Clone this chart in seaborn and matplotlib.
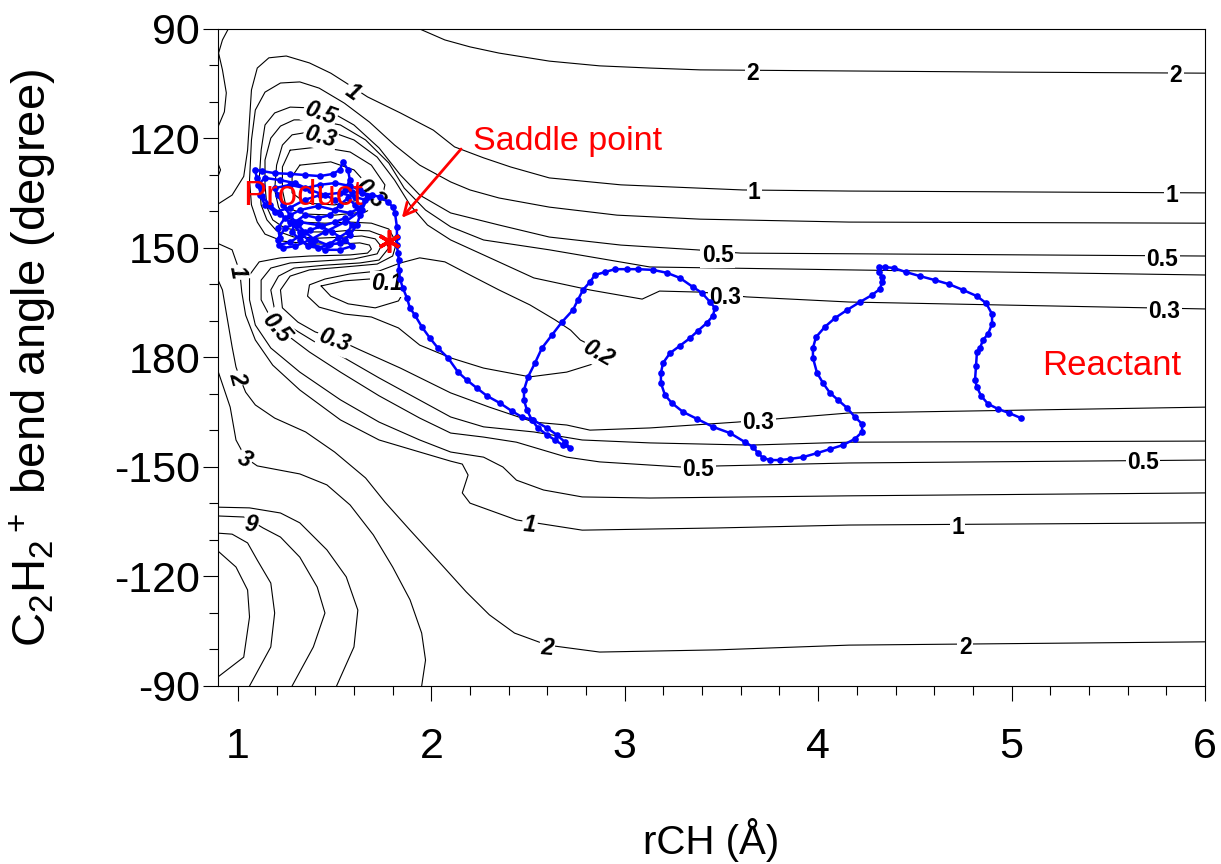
import matplotlib
matplotlib.use("Agg")
import matplotlib.pyplot as plt
import seaborn as sns
import pandas as pd
from matplotlib.ticker import MultipleLocator, FixedLocator

# ---------------- data (rCH in Angstrom, bend angle in degree; 180..270 shown as -180..-90) ----------------
traj_r = [5.049, 4.986, 4.930, 4.878, 4.842, 4.821, 4.811, 4.816, 4.821, 4.837,
          4.852, 4.878, 4.899, 4.899, 4.868, 4.821, 4.749, 4.676, 4.604, 4.526,
          4.454, 4.392, 4.345, 4.314, 4.314, 4.330, 4.330, 4.320, 4.278, 4.216,
          4.149, 4.087, 4.035, 3.989, 3.973, 3.973, 3.994, 4.025, 4.061, 4.102,
          4.149, 4.190, 4.227, 4.227, 4.190, 4.128, 4.061, 3.994, 3.921, 3.854,
          3.803, 3.751, 3.715, 3.689, 3.663, 3.622, 3.544, 3.456, 3.373, 3.301,
          3.244, 3.208, 3.187, 3.187, 3.198, 3.234, 3.285, 3.337, 3.378, 3.425,
          3.456, 3.466, 3.441, 3.399, 3.353, 3.285, 3.218, 3.146, 3.068, 3.011,
          2.949, 2.898, 2.846, 2.820, 2.784, 2.758, 2.732, 2.675, 2.624, 2.572,
          2.536, 2.500, 2.479, 2.479, 2.494, 2.520, 2.551, 2.598, 2.639, 2.680,
          2.717, 2.691, 2.649, 2.598, 2.525, 2.468, 2.417, 2.355, 2.287, 2.236,
          2.184, 2.138, 2.086, 2.034, 1.993, 1.951, 1.915, 1.889, 1.874, 1.853,
          1.838, 1.832, 1.832, 1.827, 1.822, 1.822, 1.822, 1.812, 1.801, 1.776, 1.734,
          1.693, 1.641, 1.589, 1.553, 1.579, 1.569, 1.543, 1.527, 1.491, 1.424,
          1.346, 1.269, 1.191, 1.124, 1.088, 1.098, 1.124, 1.114, 1.140, 1.191,
          1.269, 1.346, 1.424, 1.527, 1.605, 1.657, 1.631, 1.579, 1.502, 1.414,
          1.321, 1.243, 1.207, 1.217, 1.212, 1.269, 1.321, 1.372, 1.434, 1.502,
          1.553, 1.589, 1.569, 1.517, 1.476, 1.414, 1.362, 1.321, 1.279, 1.295,
          1.346, 1.414, 1.476, 1.527, 1.569, 1.605, 1.631, 1.615, 1.579, 1.527,
          1.465, 1.398, 1.346, 1.310, 1.269, 1.233, 1.207, 1.191, 1.269, 1.346,
          1.424, 1.502, 1.579, 1.631,
          1.672, 1.641, 1.553, 1.450, 1.372, 1.295, 1.233, 1.207, 1.243, 1.321,
          1.414, 1.486, 1.553, 1.589, 1.527, 1.450, 1.383, 1.321, 1.269, 1.217,
          1.165, 1.124, 1.103, 1.140, 1.217, 1.295, 1.372, 1.450, 1.502]
traj_a = [196.6, 195.2, 194.1, 192.7, 190.5, 188.1, 186.2, 182.3, 178.5, 177.4,
          175.2, 173.6, 170.8, 168.1, 165.1, 163.2, 161.5, 159.9, 158.8, 157.7,
          156.6, 155.5, 155.2, 155.2, 156.6, 157.9, 159.3, 161.2, 162.9, 164.8,
          167.0, 169.2, 171.6, 174.4, 177.4, 180.1, 184.2, 187.0, 189.7, 191.6,
          193.8, 196.3, 198.2, 200.4, 202.3, 204.0, 205.1, 206.2, 207.3, 207.8,
          208.1, 208.1, 207.5, 206.2, 204.5, 203.2, 200.7, 199.0, 196.8, 194.9,
          192.5, 190.3, 187.0, 184.2, 181.5, 178.8, 176.8, 174.7, 172.7, 170.5,
          168.6, 166.4, 164.8, 162.3, 160.7, 158.2, 156.8, 156.0, 155.8, 155.8,
          155.8, 156.6, 157.4, 159.3, 161.5, 164.2, 167.0, 170.3, 173.8, 177.4,
          181.5, 185.3, 188.9, 191.6, 194.4, 197.1, 199.3, 201.2, 202.6, 204.0,
          204.8, 203.2, 201.2, 199.3, 197.1, 196.3, 194.7, 192.5, 190.5, 188.4,
          186.2, 184.0, 180.1, 177.4, 174.7, 171.6, 168.4, 166.4, 163.7, 161.0,
          158.5, 156.0, 153.3, 151.4, 149.2, 147.0, 144.2, 140.4, 138.8, 137.4, 136.0,
          135.5, 134.9, 134.7, 134.1, 131.4, 128.6, 126.4, 128.6, 129.7, 130.3,
          130.0, 129.7, 129.5, 128.9, 128.6, 130.8, 133.0, 135.5, 138.2, 140.1,
          139.0, 136.8, 135.5, 134.9, 136.0, 136.8, 139.0, 140.4, 139.6, 138.5,
          139.6, 141.8, 144.5, 147.3, 149.2, 148.4, 146.7, 145.1, 144.0, 142.9,
          141.8, 143.7, 145.6, 147.3, 148.9, 150.0, 149.5, 147.8, 145.6, 142.9,
          141.0, 141.8, 141.0, 138.2, 136.3, 138.2, 141.0, 143.7, 146.4, 148.6,
          149.2, 147.8, 145.6, 143.7, 141.0, 138.2, 135.5, 133.6, 132.7, 133.6,
          132.7, 132.2, 133.0, 134.1,
          136.0, 139.6, 142.9, 145.6, 147.8, 149.5, 150.0, 147.8, 144.5, 142.9,
          143.7, 145.6, 147.8, 149.5, 150.5, 150.5, 148.9, 145.6, 142.9, 140.7,
          138.2, 135.8, 132.7, 130.8, 131.4, 132.2, 134.1, 135.5, 136.8]

# contour lines (energy levels in eV)
lvl2_top_r = [1.94, 2.07, 2.20, 2.35, 2.61, 2.87, 3.13, 3.39, 4.16, 4.94, 6.00]
lvl2_top_a = [90.0, 93.0, 94.9, 96.6, 98.8, 100.1, 100.7, 101.2, 101.5, 101.8, 102.1]
lvl2_left_r = [0.95, 0.92, 0.90, 0.92, 0.94, 0.93, 0.89]
lvl2_left_a = [90.0, 93.0, 96.6, 101.2, 107.5, 112.7, 117.7]
lvl2_bump_r = [0.89, 0.91, 0.89]
lvl2_bump_a = [125.9, 128.6, 131.4]
lvl1_up_r = [0.89, 0.97, 1.03, 1.05, 1.06, 1.07, 1.10, 1.16, 1.25, 1.37, 1.48, 1.56,
             1.67, 1.84, 2.01, 2.12, 2.27, 2.41, 2.61, 2.98, 3.61, 4.16, 6.00]
lvl1_up_a = [138.2, 135.5, 130.4, 123.2, 114.9, 106.7, 100.7, 97.9, 97.4, 99.3, 102.1, 104.8,
             108.6, 113.0, 117.7, 122.3, 125.3, 127.8, 130.8, 132.7, 134.1, 134.4, 134.9]
lvl07_r = [6.00, 4.16, 3.39, 2.96, 2.61, 2.35, 2.20, 2.10, 1.94, 1.81,
           1.68, 1.55, 1.42, 1.32, 1.22, 1.14, 1.09, 1.07, 1.06, 1.07,
           1.10, 1.14, 1.23, 1.37, 1.53, 1.63, 1.68, 1.69, 1.67, 1.58,
           1.37, 1.22, 1.11, 1.06, 1.06, 1.09, 1.17, 1.32, 1.53, 1.73,
           1.94, 2.10, 2.27, 2.37, 2.44, 2.58, 2.78, 3.13, 4.16, 6.00]
lvl07_a = [143.2, 142.9, 142.1, 141.0, 138.8, 136.3, 134.1, 131.9, 127.3, 121.8,
           115.5, 110.3, 106.2, 104.5, 104.8, 107.3, 112.2, 120.4, 131.4, 138.2,
           142.9, 146.2, 148.1, 148.9, 148.9, 148.6, 149.2, 150.3, 151.4, 151.9,
           152.2, 152.7, 153.8, 157.4, 164.2, 171.1, 177.4, 184.0, 191.6, 197.7,
           202.6, 205.9, 207.3, 210.0, 213.6, 216.3, 218.2, 218.5, 217.9, 217.1]
lvl1_low_r = [0.89, 0.97, 1.01, 1.02, 1.04, 1.09, 1.18, 1.32, 1.53, 1.73, 1.94,
              2.10, 2.16, 2.19, 2.16, 2.20, 2.44, 2.78, 3.48, 4.16, 6.00]
lvl1_low_a = [148.6, 150.5, 156.6, 162.1, 168.4, 175.2, 182.1, 188.9, 197.1, 202.6, 205.9,
              208.4, 209.2, 212.2, 217.1, 219.9, 224.5, 227.3, 226.7, 225.9, 225.3]
lvl05_r = [6.00, 4.22, 3.60, 3.37, 2.98, 2.61, 2.35, 2.10, 1.94, 1.84,
           1.73, 1.60, 1.51, 1.37, 1.27, 1.19, 1.14, 1.12, 1.11, 1.12,
           1.15, 1.20, 1.29, 1.42, 1.55, 1.64, 1.71, 1.74, 1.72, 1.60,
           1.42, 1.27, 1.17, 1.12, 1.12, 1.17, 1.24, 1.37, 1.53, 1.73,
           1.94, 2.10, 2.27, 2.44, 2.70, 2.87, 3.29, 3.49, 4.16, 6.00]
lvl05_a = [152.2, 151.6, 151.4, 150.5, 149.2, 147.0, 143.7, 140.4, 135.5, 130.0,
           122.6, 116.3, 113.6, 111.6, 111.4, 113.0, 116.3, 123.2, 131.4, 138.2,
           142.3, 145.3, 147.0, 147.3, 147.0, 146.7, 147.5, 149.5, 151.6, 153.0,
           153.6, 154.1, 155.5, 158.8, 164.2, 169.2, 173.3, 178.5, 184.0, 190.5,
           196.6, 200.7, 201.8, 203.2, 207.3, 208.6, 210.0, 209.7, 208.9, 208.1]
lvl04_r = [6.00, 4.16, 3.13, 2.61, 2.27, 2.10, 1.97, 1.86, 1.78, 1.66,
           1.53, 1.40, 1.29, 1.22, 1.17, 1.14, 1.14, 1.15, 1.18, 1.24,
           1.35, 1.48, 1.59, 1.68, 1.75, 1.78, 1.73, 1.63, 1.45, 1.29,
           1.21, 1.17, 1.19, 1.27, 1.40, 1.55, 1.73, 1.92, 2.10, 2.27,
           2.53, 2.78, 3.13, 3.65, 4.16, 6.00]
lvl04_a = [157.4, 156.0, 155.2, 150.5, 147.8, 144.2, 139.6, 133.6, 126.7, 120.4,
           116.3, 114.9, 114.9, 116.6, 119.9, 125.9, 132.7, 138.8, 142.3, 144.5,
           145.6, 145.6, 145.1, 145.3, 146.7, 150.0, 153.3, 154.1, 154.7, 155.5,
           157.7, 161.5, 167.0, 171.6, 175.8, 180.1, 185.6, 191.1, 196.3, 199.0,
           200.4, 202.6, 203.4, 204.0, 203.2, 202.9]
lvl03_r = [6.00, 4.16, 3.63, 3.40, 3.18, 3.09, 2.82, 2.53, 2.27, 2.10,
           1.98, 1.89, 1.81, 1.72, 1.60, 1.50, 1.37, 1.28, 1.23, 1.20,
           1.19, 1.21, 1.24, 1.32, 1.45, 1.58, 1.69, 1.78, 1.82, 1.80,
           1.72, 1.55, 1.37, 1.27, 1.22, 1.23, 1.31, 1.40, 1.50, 1.63,
           1.84, 2.10, 2.30, 2.53, 2.70, 2.82, 3.13, 3.58, 4.16, 6.00]
lvl03_a = [166.7, 164.8, 163.4, 162.1, 161.8, 164.0, 161.5, 158.2, 151.9, 147.8,
           143.7, 138.2, 131.4, 125.1, 120.4, 118.5, 118.2, 119.0, 121.8, 127.3,
           134.1, 138.8, 141.5, 142.9, 143.2, 142.9, 143.2, 144.8, 148.6, 152.2,
           154.4, 155.2, 156.0, 157.7, 161.5, 166.4, 170.3, 173.0, 174.7, 177.9,
           182.9, 189.7, 193.6, 197.7, 198.5, 199.9, 199.3, 197.7, 195.2, 193.6]
lvl02_r = [2.93, 2.87, 2.70, 2.51, 2.27, 2.10, 1.94, 1.83, 1.69, 1.55, 1.42, 1.36, 1.37, 1.45,
           1.58, 1.73, 1.84, 1.94, 2.07, 2.20, 2.35, 2.51, 2.64, 2.72, 2.77, 2.84, 2.93]
lvl02_a = [179.9, 181.2, 184.0, 185.3, 182.9, 180.1, 176.6, 171.9, 168.9, 168.1, 166.2, 163.2, 160.1, 158.5,
           157.1, 156.3, 154.1, 152.7, 153.8, 157.4, 161.5, 165.6, 169.7, 172.5, 175.2, 177.1, 179.9]
lvl01_r = [1.43, 1.55, 1.68, 1.80, 1.86, 1.83, 1.71, 1.57, 1.48, 1.43]
lvl01_a = [160.4, 159.0, 158.5, 159.3, 161.8, 164.5, 166.4, 165.3, 163.2, 160.4]
well_a_r = [1.27, 1.42, 1.58, 1.69, 1.76, 1.74, 1.66, 1.50, 1.35, 1.25, 1.23, 1.23, 1.27]
well_a_a = [123.2, 122.3, 123.7, 127.3, 132.7, 137.7, 140.1, 141.0, 140.7, 139.0, 134.1, 127.8, 123.2]
well_b_r = [1.32, 1.48, 1.60, 1.67, 1.63, 1.50, 1.35, 1.28, 1.28, 1.32]
well_b_a = [127.3, 126.4, 128.6, 132.7, 136.8, 138.2, 137.7, 134.9, 130.4, 127.3]
lvl2_low_r = [0.89, 0.92, 0.94, 0.97, 0.99, 1.01, 1.04, 1.09, 1.19, 1.35, 1.50, 1.66,
              1.76, 1.89, 2.04, 2.18, 2.30, 2.43, 2.60, 2.87, 3.48, 4.16, 6.00]
lvl2_low_a = [157.9, 161.5, 167.8, 177.1, 182.6, 185.6, 189.5, 193.0, 196.6, 200.4, 205.9, 213.0,
              219.6, 227.3, 236.0, 244.2, 250.5, 255.5, 258.8, 260.7, 260.1, 258.8, 257.9]
lvl3_r = [0.89, 0.96, 0.99, 1.04, 1.10, 1.32, 1.46, 1.58, 1.70, 1.80, 1.89, 1.95, 1.97, 1.95]
lvl3_a = [182.6, 193.6, 202.6, 207.5, 209.7, 211.9, 214.9, 220.4, 228.6, 237.4, 246.4, 255.5, 262.9, 270.0]
lvl6_r = [0.89, 1.06, 1.22, 1.32, 1.46, 1.56, 1.62, 1.60, 1.51]
lvl6_a = [221.0, 221.2, 222.6, 225.3, 232.7, 240.1, 249.2, 259.3, 270.0]
lvl9_r = [0.89, 1.03, 1.08, 1.13, 1.22, 1.32, 1.41, 1.45, 1.39, 1.28]
lvl9_a = [223.4, 223.7, 225.1, 226.7, 229.2, 234.7, 242.9, 250.0, 259.3, 270.0]
lvl12_r = [0.89, 0.97, 1.05, 1.10, 1.17, 1.19, 1.17, 1.06]
lvl12_a = [228.1, 228.4, 230.8, 235.5, 241.8, 250.0, 259.3, 270.0]
lvl15_r = [0.89, 0.99, 1.05, 1.06, 1.03, 0.89]
lvl15_a = [232.7, 237.4, 243.7, 251.1, 262.1, 267.8]

# contour labels: text, r, angle (, rotation)
upright_labels = [("2", 3.66, 101.5), ("2", 5.85, 102.1), ("1", 3.67, 134.1), ("1", 5.83, 134.9),
                  ("0.5", 3.48, 151.4), ("0.5", 5.78, 152.5), ("0.3", 3.52, 162.9), ("0.3", 5.79, 166.7),
                  ("0.3", 3.69, 197.1), ("0.5", 3.38, 210.0), ("0.5", 5.68, 208.1),
                  ("1", 4.72, 225.9), ("2", 4.76, 258.8)]
slanted_labels = [("1", 1.60, 106.7, -35), ("0.5", 1.43, 112.5, -20), ("0.3", 1.43, 118.8, -15),
                  ("0.3", 1.69, 134.7, -45), ("1", 1.01, 156.6, -80), ("0.1", 1.77, 159.1, 0),
                  ("0.5", 1.21, 171.4, -50), ("0.3", 1.50, 174.7, -20), ("0.2", 2.87, 178.3, -30),
                  ("2", 1.01, 185.6, -75), ("3", 1.04, 207.5, -30), ("9", 1.07, 225.1, -10),
                  ("1", 2.51, 225.3, -5), ("2", 2.60, 258.8, -5)]

x_ticks = [1, 2, 3, 4, 5, 6]
y_ticks = [90, 120, 150, 180, 210, 240, 270]
y_tick_labels = ["90", "120", "150", "180", "-150", "-120", "-90"]

saddle_r, saddle_a = 1.78, 148.0

# ---------------- style ----------------
sns.set_style("ticks")
plt.rcParams['font.family'] = ['Liberation Sans', 'DejaVu Sans']
plt.rcParams['text.color'] = 'black'
plt.rcParams['axes.labelcolor'] = 'black'
plt.rcParams['xtick.color'] = 'black'
plt.rcParams['ytick.color'] = 'black'
plt.rcParams['mathtext.fontset'] = 'custom'
plt.rcParams['mathtext.rm'] = 'Liberation Sans'
plt.rcParams['mathtext.it'] = 'Liberation Sans:italic'
plt.rcParams['mathtext.bf'] = 'Liberation Sans:bold'
plt.rcParams['mathtext.default'] = 'regular'

fig = plt.figure(figsize=(12.21, 8.64), dpi=100)
ax = fig.add_axes([0.17854, 0.20602, 0.80836, 0.76042])

contours = [(lvl2_top_r, lvl2_top_a), (lvl2_left_r, lvl2_left_a), (lvl2_bump_r, lvl2_bump_a),
            (lvl1_up_r, lvl1_up_a), (lvl07_r, lvl07_a), (lvl1_low_r, lvl1_low_a),
            (lvl05_r, lvl05_a), (lvl04_r, lvl04_a), (lvl03_r, lvl03_a), (lvl02_r, lvl02_a),
            (lvl01_r, lvl01_a), (well_a_r, well_a_a), (well_b_r, well_b_a),
            (lvl2_low_r, lvl2_low_a), (lvl3_r, lvl3_a), (lvl6_r, lvl6_a), (lvl9_r, lvl9_a),
            (lvl12_r, lvl12_a), (lvl15_r, lvl15_a)]
for r, a in contours:
    ax.plot(r, a, color='black', lw=0.8, zorder=1, solid_joinstyle='round')

lab_box = dict(boxstyle='square,pad=0.06', fc='white', ec='none')
for txt, r, a in upright_labels:
    ax.text(r, a, txt, fontsize=16.5, fontweight='bold', color='black',
            ha='center', va='center_baseline', bbox=lab_box, zorder=2)
for txt, r, a, rot in slanted_labels:
    ax.text(r, a, txt, fontsize=16.5, fontweight='bold', fontstyle='italic', color='black',
            ha='center', va='center_baseline', rotation=rot, rotation_mode='anchor',
            bbox=lab_box, zorder=2)

traj = pd.DataFrame({'r': traj_r, 'a': traj_a})
sns.lineplot(data=traj, x='r', y='a', sort=False, estimator=None, color='#0000ff',
             linewidth=1.8, marker='o', markersize=4.8, markeredgewidth=0, ax=ax, zorder=3)

ax.plot([saddle_r], [saddle_a], marker=(6, 2, 0), markersize=16, markeredgewidth=2.6,
        color='red', linestyle='none', zorder=5)
ax.annotate('', xy=(1.838, 142.3), xytext=(2.163, 122.3),
            arrowprops=dict(arrowstyle='->', color='red', lw=2.0, mutation_scale=22), zorder=5)
ax.text(2.215, 123.2, 'Saddle point', color='red', fontsize=24.5,
        ha='left', va='baseline', zorder=6)
ax.text(1.026, 138.2, 'Product', color='red', fontsize=25,
        ha='left', va='baseline', zorder=6)
ax.text(5.157, 184.8, 'Reactant', color='red', fontsize=25,
        ha='left', va='baseline', zorder=6)

# axes
ax.set_xlim(0.897, 6.0)
ax.set_ylim(270, 90)
ax.xaxis.set_major_locator(FixedLocator(x_ticks))
ax.xaxis.set_minor_locator(MultipleLocator(0.2))
ax.set_yticks(y_ticks)
ax.set_yticklabels(y_tick_labels)
ax.yaxis.set_minor_locator(MultipleLocator(10))
ax.tick_params(which='major', direction='out', length=10.8, width=0.8, color='black',
               labelsize=31, labelcolor='black')
ax.tick_params(which='minor', direction='out', length=6.5, width=0.8, color='black')
ax.tick_params(axis='x', which='major', pad=19)
ax.tick_params(axis='y', which='major', pad=2)
for s in ax.spines.values():
    s.set_linewidth(0.8)
    s.set_color('black')
    s.set_visible(True)

ax.set_xlabel('rCH (Å)', fontsize=29, color='black')
ax.set_ylabel('C$_2$H$_2$$^+$ bend angle (degree)', fontsize=34, color='black')
ax.xaxis.label.set_va('center')
ax.yaxis.label.set_va('center')
ax.xaxis.set_label_coords(0.5, -0.2344)
ax.yaxis.set_label_coords(-0.1874, 0.5)

fig.savefig('out.png', dpi=100)
